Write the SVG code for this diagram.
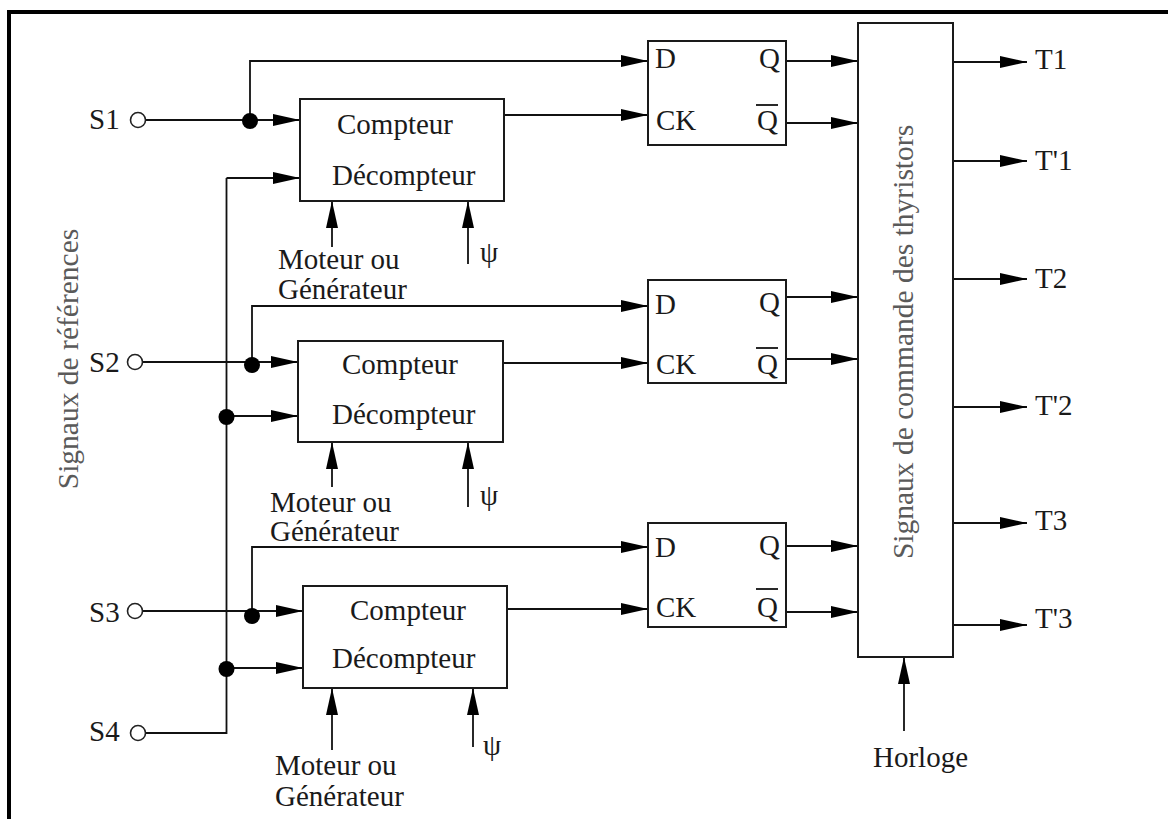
<svg xmlns="http://www.w3.org/2000/svg" width="1168" height="819" viewBox="0 0 1168 819">
<style>
.t{font-family:"Liberation Serif","Times New Roman",serif;font-size:29px;fill:#1a1a1a}
.g{font-family:"Liberation Serif","Times New Roman",serif;font-size:29.5px;fill:#5a5a5a}
.box{fill:#fff;stroke:#1a1a1a;stroke-width:2}
.w{fill:none;stroke:#111;stroke-width:1.8}
.a{fill:none;stroke:#111;stroke-width:1.8;marker-end:url(#ah)}
.dot{fill:#000}
.pin{fill:#fff;stroke:#222;stroke-width:1.6}
</style>
<defs>
<marker id="ah" markerWidth="28" markerHeight="12" refX="27" refY="6" orient="auto" markerUnits="userSpaceOnUse"><path d="M0,0 L27,6 L0,12 z" fill="#000"/></marker>
</defs>
<rect width="1168" height="819" fill="#fff"/>
<g id="frame"><path d="M9,819 L9,12 L1168,12" fill="none" stroke="#000" stroke-width="4"/></g>

<g id="connectors">
<!-- S1 -->
<path class="w" d="M146,120 L250,120"/>
<path class="a" d="M250,120 L300,120"/>
<path class="a" d="M250,120 L250,61 L648,61"/>
<!-- S2 -->
<path class="w" d="M143,362 L252,362"/>
<path class="a" d="M252,362 L298,362"/>
<path class="a" d="M252,362 L252,306 L648,306"/>
<!-- S3 -->
<path class="w" d="M143,611 L252,611"/>
<path class="a" d="M252,611 L303,611"/>
<path class="a" d="M252,611 L252,547 L648,547"/>
<!-- S4 -->
<path class="w" d="M146,733 L226.5,733 L226.5,178"/>
<path class="a" d="M226.5,178 L300,178"/>
<path class="a" d="M226.5,416 L298,416"/>
<path class="a" d="M226.5,668 L303,668"/>
<!-- counters to CK -->
<path class="a" d="M504,115 L648,115"/>
<path class="a" d="M503,363 L648,363"/>
<path class="a" d="M507,609 L648,609"/>
<!-- mode and psi inputs -->
<path class="a" d="M332,247 L332,201"/>
<path class="a" d="M468,264 L468,201"/>
<path class="a" d="M332,487 L332,442"/>
<path class="a" d="M468,507 L468,442"/>
<path class="a" d="M332,750 L332,688"/>
<path class="a" d="M473,747 L473,688"/>
<!-- FF outputs -->
<path class="a" d="M786,61 L858,61"/>
<path class="a" d="M786,123 L858,123"/>
<path class="a" d="M786,297 L858,297"/>
<path class="a" d="M786,359 L858,359"/>
<path class="a" d="M786,546 L858,546"/>
<path class="a" d="M786,612 L858,612"/>
<!-- thyristor outputs -->
<path class="a" d="M953,62 L1027,62"/>
<path class="a" d="M953,161 L1027,161"/>
<path class="a" d="M953,279 L1027,279"/>
<path class="a" d="M953,407 L1027,407"/>
<path class="a" d="M953,523 L1027,523"/>
<path class="a" d="M953,625 L1027,625"/>
<!-- clock -->
<path class="a" d="M904,731 L904,657"/>
<!-- junctions -->
<circle class="dot" cx="250" cy="121" r="8"/>
<circle class="dot" cx="252" cy="365" r="8"/>
<circle class="dot" cx="252" cy="616" r="8"/>
<circle class="dot" cx="226.5" cy="417" r="8"/>
<circle class="dot" cx="226.5" cy="669" r="8"/>
</g>

<g id="in-S1"><circle class="pin" cx="138" cy="120" r="7.5"/><text class="t" x="89" y="129">S1</text></g>
<g id="in-S2"><circle class="pin" cx="135" cy="362" r="7.5"/><text class="t" x="89" y="372">S2</text></g>
<g id="in-S3"><circle class="pin" cx="135" cy="611" r="7.5"/><text class="t" x="89" y="622">S3</text></g>
<g id="in-S4"><circle class="pin" cx="138" cy="733" r="7.5"/><text class="t" x="89" y="741">S4</text></g>

<g id="label-references"><text class="g" transform="translate(78,359) rotate(-90)" text-anchor="middle">Signaux de références</text></g>

<g id="counter1">
<rect class="box" x="300" y="99" width="204" height="102"/>
<text class="t" x="337" y="134">Compteur</text>
<text class="t" x="332" y="185">Décompteur</text>
</g>
<g id="counter1-labels">
<text class="t" x="278" y="269">Moteur ou</text>
<text class="t" x="278" y="299">Générateur</text>
<text class="t" x="480" y="262">ψ</text>
</g>

<g id="counter2">
<rect class="box" x="298" y="341" width="205" height="101"/>
<text class="t" x="342" y="374">Compteur</text>
<text class="t" x="332" y="424">Décompteur</text>
</g>
<g id="counter2-labels">
<text class="t" x="270" y="512">Moteur ou</text>
<text class="t" x="270" y="541">Générateur</text>
<text class="t" x="480" y="505">ψ</text>
</g>

<g id="counter3">
<rect class="box" x="303" y="586" width="204" height="102"/>
<text class="t" x="350" y="620">Compteur</text>
<text class="t" x="332" y="668">Décompteur</text>
</g>
<g id="counter3-labels">
<text class="t" x="275" y="775">Moteur ou</text>
<text class="t" x="275" y="806">Générateur</text>
<text class="t" x="483" y="755">ψ</text>
</g>

<g id="ff1">
<rect class="box" x="648" y="41" width="138" height="104"/>
<text class="t" x="655" y="68">D</text>
<text class="t" x="759" y="68">Q</text>
<text class="t" x="656" y="130">CK</text>
<text class="t" x="757" y="130">Q</text>
<path class="w" d="M756,105 L778,105"/>
</g>
<g id="ff2">
<rect class="box" x="648" y="280" width="138" height="103"/>
<text class="t" x="655" y="314">D</text>
<text class="t" x="759" y="312">Q</text>
<text class="t" x="656" y="374">CK</text>
<text class="t" x="757" y="374">Q</text>
<path class="w" d="M756,348 L778,348"/>
</g>
<g id="ff3">
<rect class="box" x="648" y="523" width="138" height="104"/>
<text class="t" x="655" y="557">D</text>
<text class="t" x="759" y="555">Q</text>
<text class="t" x="656" y="617">CK</text>
<text class="t" x="757" y="617">Q</text>
<path class="w" d="M756,589 L778,589"/>
</g>

<g id="thyristor-control">
<rect class="box" x="858" y="23" width="95" height="634"/>
<text class="g" transform="translate(913,342) rotate(-90)" text-anchor="middle">Signaux de commande des thyristors</text>
</g>

<g id="outputs">
<text class="t" x="1035" y="69">T1</text>
<text class="t" x="1035" y="170">T'1</text>
<text class="t" x="1035" y="288">T2</text>
<text class="t" x="1035" y="415">T'2</text>
<text class="t" x="1035" y="530">T3</text>
<text class="t" x="1035" y="628">T'3</text>
</g>

<g id="clock"><text class="t" x="873" y="767">Horloge</text></g>
</svg>
